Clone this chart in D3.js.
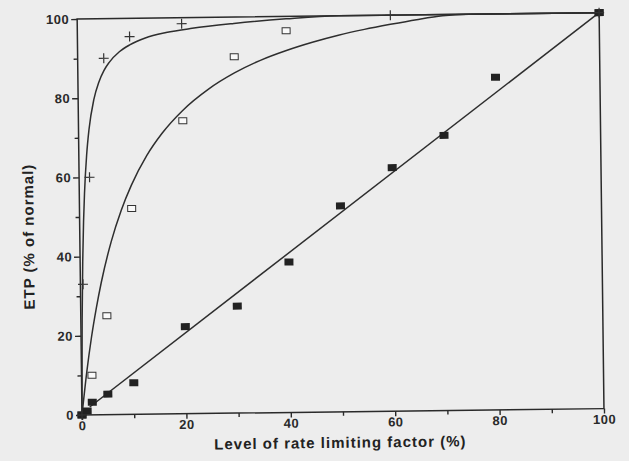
<!DOCTYPE html>
<html>
<head>
<meta charset="utf-8">
<script src="https://cdn.jsdelivr.net/npm/d3@7"></script>
<style>
  body { margin: 0; background: #ededed; }
  svg { display: block; }
  .axis text { font-family: "Liberation Sans", Arial, sans-serif; font-weight: bold; font-size: 13px; letter-spacing: 0.5px; fill: #2a2a2a; }
  .axis line { stroke: #2a2a2a; stroke-width: 1.4; }
  .title { font-family: "Liberation Sans", Arial, sans-serif; font-weight: bold; font-size: 15px; letter-spacing: 1px; fill: #222; }
</style>
</head>
<body>
<div id="chart"></div>
<script>
// Data
const plusX = [0, 0.5, 2, 5, 10, 20, 60, 100];
const plusY = [0, 33, 60, 90, 95.4, 98.5, 100, 100];

const openX = [0, 2, 5, 10, 20, 30, 40, 100];
const openY = [0, 10, 25, 52, 74, 90, 96.4, 100];

const filledX = [0, 1, 2, 5, 10, 20, 30, 40, 50, 60, 70, 80, 100];
const filledY = [0, 1, 3.2, 5.2, 8, 22, 27, 38, 52, 61.5, 69.5, 84, 100];

// fitted curves as traced in the picture
const plusCurveX = [0, 0.25, 0.5, 0.75, 1, 1.5, 2, 3, 4, 5, 6, 8, 10, 13, 17, 22, 30, 40, 50, 100];
const plusCurveY = [0, 24, 38.8, 48.8, 56, 65.7, 72, 79.6, 84, 86.9, 88.9, 91.6, 93.3, 95, 96.3, 97.3, 98.4, 99.4, 100, 100];

const openCurveX = [0, 1, 2, 3, 4, 6, 8, 10, 13, 16, 20, 25, 30, 35, 40, 45, 50, 55, 60, 65, 70, 75, 100];
const openCurveY = [0, 10.7, 19.6, 27, 33.4, 43.7, 51.6, 57.9, 65.3, 70.9, 76.6, 81.9, 85.9, 89, 91.4, 93.4, 95.1, 96.5, 97.7, 98.8, 99.7, 100, 100];

const lineX = [1.5, 100];
const lineY = [2, 100];

const xTicks = [0, 20, 40, 60, 80, 100];
const xMinor = [10, 30, 50, 70, 90];
const yTicks = [0, 20, 40, 60, 80, 100];
const yMinor = [10, 30, 50, 70, 90];

const W = 629, H = 461;
const plotL = 82, plotR = 604, plotT = 19, plotB = 415;

const svg = d3.select("#chart").append("svg")
  .attr("width", W)
  .attr("height", H);

svg.append("rect").attr("width", W).attr("height", H).attr("fill", "#ededed");

// the scan is a little rotated
const g = svg.append("g")
  .attr("transform", `rotate(-0.7, ${plotL}, ${plotB})`);

const x = d3.scaleLinear().domain([0, 100]).range([plotL, plotR]);
const y = d3.scaleLinear().domain([0, 100]).range([plotB, plotT]);

// frame
g.append("rect")
  .attr("x", x(0)).attr("y", y(100))
  .attr("width", x(100) - x(0)).attr("height", y(0) - y(100))
  .attr("fill", "none")
  .attr("stroke", "#2a2a2a")
  .attr("stroke-width", 1.5);

// axes
g.append("g").attr("class", "axis")
  .attr("transform", `translate(0,${plotB})`)
  .call(d3.axisBottom(x).tickValues(xTicks).tickSize(5).tickSizeOuter(0).tickPadding(1));
g.append("g").attr("class", "axis")
  .attr("transform", `translate(0,${plotB})`)
  .call(d3.axisBottom(x).tickValues(xMinor).tickSize(4).tickFormat(""));

g.append("g").attr("class", "axis")
  .attr("transform", `translate(${plotL},0)`)
  .call(d3.axisLeft(y).tickValues(yTicks).tickSize(6).tickSizeOuter(0).tickPadding(2));
g.append("g").attr("class", "axis")
  .attr("transform", `translate(${plotL},0)`)
  .call(d3.axisLeft(y).tickValues(yMinor).tickSize(4).tickFormat(""));

g.selectAll(".axis .domain").remove();

// curves and line
const curve = d3.line()
  .x(d => x(d[0]))
  .y(d => y(d[1]))
  .curve(d3.curveMonotoneX);

g.append("path")
  .datum(d3.zip(plusCurveX, plusCurveY))
  .attr("d", curve)
  .attr("fill", "none")
  .attr("stroke", "#2e2e2e")
  .attr("stroke-width", 1.5);

g.append("path")
  .datum(d3.zip(openCurveX, openCurveY))
  .attr("d", curve)
  .attr("fill", "none")
  .attr("stroke", "#2e2e2e")
  .attr("stroke-width", 1.5);

g.append("path")
  .datum(d3.zip(lineX, lineY))
  .attr("d", d3.line().x(d => x(d[0])).y(d => y(d[1])))
  .attr("fill", "none")
  .attr("stroke", "#2e2e2e")
  .attr("stroke-width", 1.5);

// open squares
g.selectAll(".open")
  .data(d3.zip(openX, openY))
  .enter().append("rect")
  .attr("class", "open")
  .attr("x", d => x(d[0]) - 4)
  .attr("y", d => y(d[1]) - 3)
  .attr("width", 8)
  .attr("height", 6)
  .attr("fill", "#fafafa")
  .attr("stroke", "#333")
  .attr("stroke-width", 1);

// filled squares
g.selectAll(".filled")
  .data(d3.zip(filledX, filledY))
  .enter().append("rect")
  .attr("class", "filled")
  .attr("x", d => x(d[0]) - 4.5)
  .attr("y", d => y(d[1]) - 3.5)
  .attr("width", 9)
  .attr("height", 7)
  .attr("fill", "#222");

// plus markers
g.selectAll(".plus")
  .data(d3.zip(plusX, plusY))
  .enter().append("path")
  .attr("class", "plus")
  .attr("d", d => {
    const cx = x(d[0]), cy = y(d[1]);
    return `M${cx - 5},${cy}H${cx + 5}M${cx},${cy - 5}V${cy + 5}`;
  })
  .attr("stroke", "#333")
  .attr("stroke-width", 1.2);

// titles
g.append("text")
  .attr("class", "title")
  .attr("x", 340)
  .attr("y", 451)
  .attr("text-anchor", "middle")
  .text("Level of rate limiting factor (%)");

g.append("text")
  .attr("class", "title")
  .attr("transform", "translate(36,236) rotate(-90)")
  .attr("text-anchor", "middle")
  .text("ETP (% of normal)");
</script>
</body>
</html>
